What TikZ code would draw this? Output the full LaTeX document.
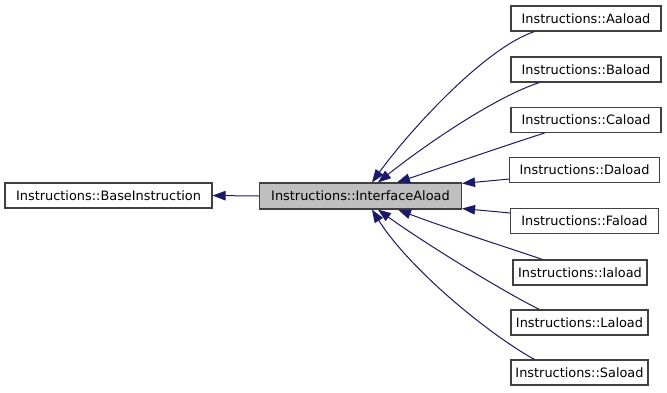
\documentclass[tikz,border=0pt]{standalone}
\usepackage{fontspec}
\setmainfont{DejaVu Sans}
\usetikzlibrary{arrows.meta}
\definecolor{edgeblue}{RGB}{25,25,112}
\definecolor{boxline}{RGB}{64,64,64}
\definecolor{rootfill}{RGB}{191,191,191}
\begin{document}
\begin{tikzpicture}[x=1pt,y=-1pt,
  cls/.style={draw=boxline,line width=1.1pt,fill=white,inner sep=0pt,
    minimum height=25pt,font=\fontsize{12.9}{15}\selectfont,text=black},
  rootcls/.style={cls,fill=rootfill},
  edge/.style={draw=edgeblue,line width=1pt,
    -{Triangle[length=13pt,width=9.5pt]}}]
\useasboundingbox (0,0) rectangle (667,392);

% classes
\node[cls,minimum width=207pt] (base) at (108.5,195.5) {Instructions::BaseInstruction};
\node[rootcls,minimum width=202pt,minimum height=26pt] (iface) at (360.5,196) {Instructions::InterfaceAload};
\node[cls,minimum width=150pt] (aa) at (586,18.5) {Instructions::Aaload};
\node[cls,minimum width=150pt] (ba) at (586,69.5) {Instructions::Baload};
\node[cls,minimum width=150pt] (ca) at (586,120) {Instructions::Caload};
\node[cls,minimum width=150pt] (da) at (584.5,170) {Instructions::Daload};
\node[cls,minimum width=148pt] (fa) at (584.5,221) {Instructions::Faload};
\node[cls,minimum width=134pt] (ia) at (580,272.5) {Instructions::Iaload};
\node[cls,minimum width=137pt] (la) at (579.5,322.5) {Instructions::Laload};
\node[cls,minimum width=137pt] (sa) at (579.5,372.5) {Instructions::Saload};

% inheritance
\draw[edge] (iface.west) -- (base.east);
\draw[edge] ([xshift=24pt]aa.south west) .. controls (485,48) and (410,130) .. ([xshift=113pt]iface.north west);
\draw[edge] ([xshift=29pt]ba.south west) .. controls (495,97) and (425,145) .. ([xshift=119pt]iface.north west);
\draw[edge] ([xshift=34pt]ca.south west) .. controls (510,144) and (440,168) .. ([xshift=138pt]iface.north west);
\draw[edge] ([yshift=4pt]da.south west) -- ([yshift=-1pt]iface.north east);
\draw[edge] ([yshift=-5pt]fa.north west) -- ([yshift=1pt]iface.south east);
\draw[edge] ([xshift=30pt]ia.north west) .. controls (515,250) and (440,226) .. ([xshift=139pt]iface.south west);
\draw[edge] ([xshift=29pt]la.north west) .. controls (500,290) and (420,240) .. ([xshift=119pt]iface.south west);
\draw[edge] ([xshift=24pt]sa.north west) .. controls (490,335) and (410,270) .. ([xshift=113pt]iface.south west);
\end{tikzpicture}
\end{document}
